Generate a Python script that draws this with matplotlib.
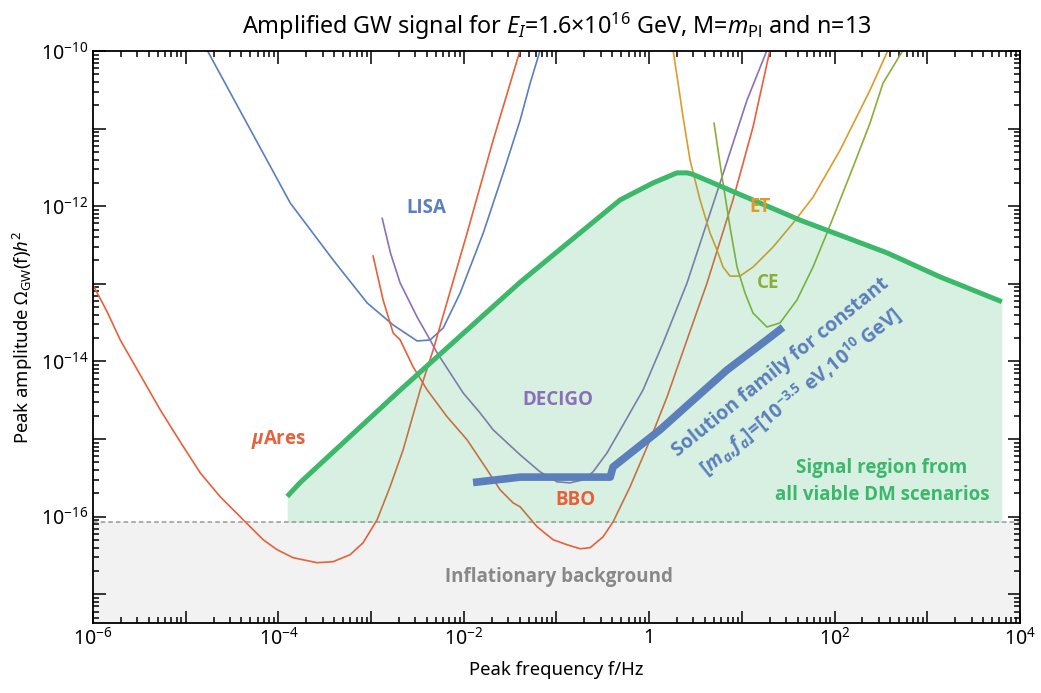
import numpy as np
import matplotlib
matplotlib.use("Agg")
import matplotlib.pyplot as plt
from matplotlib.ticker import LogLocator, FuncFormatter, NullFormatter

plt.rcParams['font.family'] = ['Noto Sans', 'DejaVu Sans']
plt.rcParams['mathtext.fontset'] = 'custom'
plt.rcParams['mathtext.rm'] = 'Noto Sans'
plt.rcParams['mathtext.it'] = 'Noto Sans:italic'
plt.rcParams['mathtext.bf'] = 'Open Sans:bold'
plt.rcParams['mathtext.sf'] = 'Open Sans:italic:bold'

# sensitivity curves, (log10 f, log10 Omega h^2)
lisa_lf = [-4.768, -3.871, -3.408, -3.041, -2.762, -2.503, -2.363, -2.222, -2.039, -1.79,
           -1.575, -1.392, -1.284, -1.176]
lisa_lo = [-9.99, -11.96, -12.694, -13.247, -13.53, -13.736, -13.723, -13.569, -13.118, -12.346,
           -11.573, -10.892, -10.416, -9.99]

decigo_lf = [-2.88, -2.79, -2.686, -2.503, -2.363, -2.287, -2.007, -1.824, -1.683, -1.392,
             -1.177, -0.993, -0.853, -0.713, -0.605, -0.454, -0.281, -0.066, 0.15, 0.408,
             0.764, 1.055, 1.271]
decigo_lo = [-12.156, -12.606, -12.99, -13.428, -13.723, -13.89, -14.405, -14.663, -14.881, -15.203,
             -15.422, -15.551, -15.564, -15.525, -15.422, -15.177, -14.817, -14.367, -13.762, -12.99,
             -11.703, -10.634, -9.99]

mu_ares_lf = [-6.0, -5.846, -5.706, -5.49, -5.274, -5.059, -4.843, -4.627, -4.379, -4.164,
              -4.013, -3.84, -3.582, -3.41, -3.226, -3.086, -2.935, -2.795, -2.654, -2.47,
              -2.33, -1.964, -1.683, -1.392]
mu_ares_lo = [-13.015, -13.362, -13.722, -14.173, -14.624, -15.035, -15.435, -15.744, -16.04, -16.297,
              -16.426, -16.529, -16.593, -16.58, -16.49, -16.336, -16.04, -15.615, -15.139, -14.367,
              -13.852, -12.346, -11.149, -9.99]

bbo_lf = [-2.978, -2.87, -2.762, -2.686, -2.546, -2.395, -2.179, -1.964, -1.748, -1.608,
          -1.468, -1.392, -1.209, -1.036, -0.885, -0.745, -0.637, -0.497, -0.389, -0.206,
          0.01, 0.193, 0.408, 0.624, 0.904, 1.12, 1.303]
bbo_lo = [-12.642, -13.208, -13.633, -13.723, -14.07, -14.367, -14.714, -15.01, -15.396, -15.654,
          -15.822, -15.873, -16.13, -16.297, -16.362, -16.413, -16.4, -16.259, -16.066, -15.615,
          -15.01, -14.457, -13.723, -12.99, -11.919, -10.98, -9.99]

et_lf = [0.258, 0.312, 0.366, 0.441, 0.549, 0.657, 0.732, 0.797, 0.872, 0.98, 1.12, 1.336,
         1.552, 1.768, 2.059, 2.382, 2.576]
et_lo = [-9.99, -10.416, -10.853, -11.407, -11.919, -12.346, -12.565, -12.784, -12.90, -12.90,
         -12.784, -12.526, -12.218, -11.883, -11.278, -10.506, -9.99]

ce_lf = [0.70, 0.743, 0.797, 0.872, 0.948, 1.034, 1.12, 1.271, 1.411, 1.594, 1.767, 1.918,
         2.199, 2.382, 2.522, 2.738]
ce_lo = [-10.93, -11.278, -11.703, -12.269, -12.784, -13.118, -13.376, -13.556, -13.504, -13.208,
         -12.784, -12.346, -11.497, -10.93, -10.416, -9.99]

# envelope of the signal region
signal_lf = [-3.905, -3.765, -2.687, -1.393, -0.315, 0.041, 0.30, 0.41, 0.473, 1.63, 2.565, 3.137, 3.805]
signal_lo = [-15.74, -15.56, -14.37, -12.98, -11.92, -11.70, -11.57, -11.57, -11.59, -12.18, -12.60, -12.91, -13.23]

# solution family for constant [m_a, f_a]
sol_lf = [-1.9, -1.39, -0.42, -0.39, 0.118, 0.473, 0.84, 1.271, 1.444]
sol_lo = [-15.56, -15.49, -15.49, -15.36, -14.88, -14.50, -14.11, -13.72, -13.56]

infl_level = -16.07
xlim = (1e-6, 1e4)
ylim = (10**-17.37, 1e-10)

c_lisa = '#5a7fbd'
c_decigo = '#8a70b8'
c_red = '#e8603a'
c_et = '#e09a2a'
c_ce = '#8aae38'
c_green = '#3cb86a'
c_sol = '#5b7fbb'

fig = plt.figure(figsize=(10.41, 6.93), dpi=100)
ax = fig.add_axes([0.0893, 0.101, 0.8905, 0.8254])
ax.set_xscale('log')
ax.set_yscale('log')

def pw(v):
    return 10.0 ** np.asarray(v)

ax.axhspan(ylim[0], 10**infl_level, color='#f2f2f2', zorder=0)
ax.axhline(10**infl_level, color='#999999', lw=1.1, ls=(0, (3, 2)), zorder=1)

lw = 1.2
ax.plot(pw(lisa_lf), pw(lisa_lo), color=c_lisa, lw=lw, zorder=2)
ax.plot(pw(decigo_lf), pw(decigo_lo), color=c_decigo, lw=lw, zorder=2)
ax.plot(pw(mu_ares_lf), pw(mu_ares_lo), color=c_red, lw=lw, zorder=2)
ax.plot(pw(bbo_lf), pw(bbo_lo), color=c_red, lw=lw, zorder=2)
ax.plot(pw(et_lf), pw(et_lo), color=c_et, lw=lw, zorder=2)
ax.plot(pw(ce_lf), pw(ce_lo), color=c_ce, lw=lw, zorder=2)

ax.fill_between(pw(signal_lf), 10**infl_level, pw(signal_lo), color=c_green, alpha=0.2,
                lw=0, zorder=3)
ax.plot(pw(signal_lf), pw(signal_lo), color=c_green, lw=3.6, zorder=4, solid_capstyle='butt')

ax.plot(pw(sol_lf), pw(sol_lo), color=c_sol, lw=5.5, zorder=5, solid_capstyle='butt')

ax.set_xlim(*xlim)
ax.set_ylim(*ylim)

def xfmt(v, pos):
    e = int(round(np.log10(v)))
    if e % 2:
        return ''
    return '1' if e == 0 else r'$10^{%d}$' % e

def yfmt(v, pos):
    e = int(round(np.log10(v)))
    if e % 2:
        return ''
    return r'$10^{%d}$' % e

ax.xaxis.set_major_locator(LogLocator(base=10, numticks=20))
ax.xaxis.set_minor_locator(LogLocator(base=10, subs=np.arange(2, 10), numticks=20))
ax.yaxis.set_major_locator(LogLocator(base=10, numticks=20))
ax.yaxis.set_minor_locator(LogLocator(base=10, subs=np.arange(2, 10), numticks=20))
ax.xaxis.set_major_formatter(FuncFormatter(xfmt))
ax.yaxis.set_major_formatter(FuncFormatter(yfmt))
ax.xaxis.set_minor_formatter(NullFormatter())
ax.yaxis.set_minor_formatter(NullFormatter())
ax.tick_params(which='both', direction='in', top=True, right=True, labelsize=14, width=1.1)
ax.tick_params(which='major', length=9)
ax.tick_params(which='minor', length=4)
for s in ax.spines.values():
    s.set_linewidth(1.3)

ax.set_title(r'Amplified GW signal for $E_{I}$=1.6×10$^{16}$ GeV, M=$m_{\rm Pl}$ and n=13',
             fontsize=16.8, pad=12)
ax.set_xlabel('Peak frequency f/Hz', fontsize=13.3, labelpad=8)
ax.set_ylabel(r'Peak amplitude $\Omega_{\rm GW}$(f)$h^2$', fontsize=13.3, labelpad=4)

lab = dict(family=['Open Sans', 'DejaVu Sans'], fontsize=13.5, fontweight='bold',
           ha='center', va='center', zorder=6)
ax.text(10**-2.4, 10**-12.02, 'LISA', color=c_lisa, **lab)
ax.text(10**-0.98, 10**-14.495, 'DECIGO', color=c_decigo, **lab)
ax.text(10**-4.0, 10**-15.01, r'$\mathsf{\mu}$Ares', color=c_red, **lab)
ax.text(10**-0.8, 10**-15.78, 'BBO', color=c_red, **lab)
ax.text(10**1.195, 10**-12.01, 'ET', color=c_et, **lab)
ax.text(10**1.28, 10**-12.99, 'CE', color=c_ce, **lab)
ax.text(10**2.51, 10**-15.55, 'Signal region from\nall viable DM scenarios', color=c_green,
        linespacing=1.45, **lab)
ax.text(10**-0.97, 10**-16.773, 'Inflationary background', color='#888888', **lab)
lab_sol = dict(lab, fontsize=14)
ax.text(10**1.54, 10**-14.25,
        'Solution family for constant\n'
        r'[$\mathsf{m_a}$,$\mathsf{f_a}$]=[10$^{\mathbf{-3.5}}$ eV,10$^{\mathbf{10}}$ GeV]',
        color=c_sol, rotation=39, rotation_mode='anchor', linespacing=1.4, **lab_sol)

fig.savefig('out.png', dpi=100)
